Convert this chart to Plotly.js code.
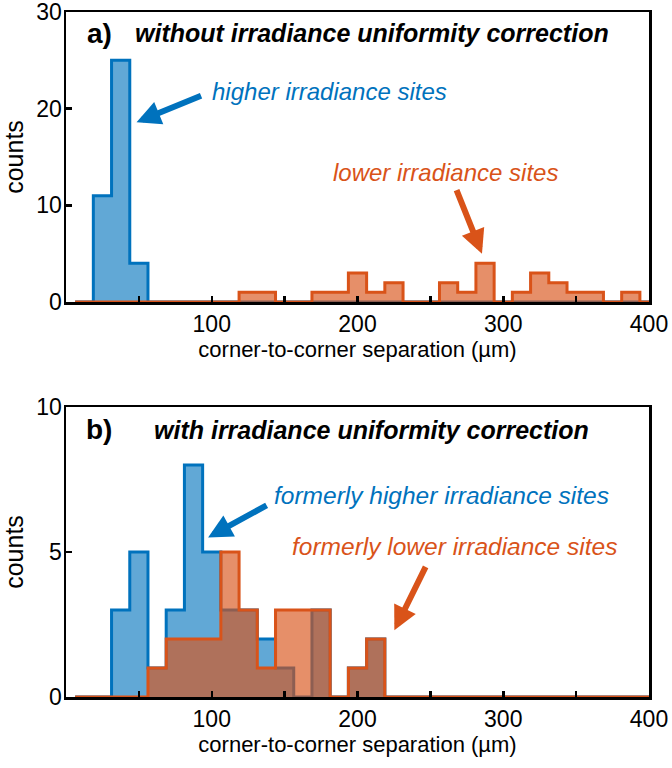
<!DOCTYPE html>
<html>
<head>
<meta charset="utf-8">
<script src="https://cdn.plot.ly/plotly-3.0.1.min.js"></script>
<style>html,body{margin:0;padding:0;background:#fff;}#chart{width:672px;height:768px;}</style>
</head>
<body>
<div id="chart"></div>
<script>
// ---- data ----
const binCenters = [12.5, 25, 37.5, 50, 62.5, 75, 87.5, 100, 112.5, 125, 137.5, 150, 162.5, 175, 187.5, 200,
                    212.5, 225, 237.5, 250, 262.5, 275, 287.5, 300, 312.5, 325, 337.5, 350, 362.5, 375, 387.5, 400];
const countsA_higher = [0, 11, 25, 4, 0, 0, 0, 0, 0, 0, 0, 0, 0, 0, 0, 0, 0, 0, 0, 0, 0, 0, 0, 0, 0, 0, 0, 0, 0, 0, 0, 0];
const countsA_lower  = [0, 0, 0, 0, 0, 0, 0, 0, 0, 1, 1, 0, 0, 1, 1, 3, 1, 2, 0, 0, 2, 1, 4, 0, 1, 3, 2, 1, 1, 0, 1, 0];
const countsB_higher = [0, 0, 3, 5, 1, 3, 8, 5, 3, 3, 2, 1, 0, 3, 0, 1, 2, 0, 0, 0, 0, 0, 0, 0, 0, 0, 0, 0, 0, 0, 0, 0];
const countsB_lower  = [0, 0, 0, 0, 1, 2, 2, 2, 5, 3, 1, 3, 3, 3, 0, 1, 2, 0, 0, 0, 0, 0, 0, 0, 0, 0, 0, 0, 0, 0, 0, 0];
const xTickVals = [50, 100, 150, 200, 250, 300, 350, 400];
const xTickText = ['', '100', '', '200', '', '300', '', '400'];
const yTickValsA = [0, 10, 20, 30];
const yTickValsB = [0, 5, 10];

// ---- styling ----
const FONT = '"Liberation Sans Narrow", "Liberation Sans", Arial, sans-serif';
const BLUE = '#0072BD', BLUE_FILL = 'rgba(0,114,189,0.62)';
const ORANGE = '#D95319', ORANGE_FILL = 'rgba(217,83,25,0.65)';
const W = 672, H = 768;
const px = v => v / W, py = v => 1 - v / H;

function stepTrace(counts, xa, ya, lineColor, fillColor) {
  const w = binCenters[1] - binCenters[0];
  const x = binCenters.map(c => c - w / 2);
  x.push(binCenters[binCenters.length - 1] + w / 2);
  const y = counts.slice();
  y.push(counts[counts.length - 1]);
  return {type: 'scatter', mode: 'lines', x: x, y: y, xaxis: xa, yaxis: ya,
          line: {shape: 'hv', color: lineColor, width: 3}, fill: 'tozeroy', fillcolor: fillColor,
          hoverinfo: 'skip', showlegend: false};
}

const traces = [
  stepTrace(countsA_higher, 'x', 'y', BLUE, BLUE_FILL),
  stepTrace(countsA_lower, 'x', 'y', ORANGE, ORANGE_FILL),
  stepTrace(countsB_higher, 'x2', 'y2', BLUE, BLUE_FILL),
  stepTrace(countsB_lower, 'x2', 'y2', ORANGE, ORANGE_FILL)
];

function xAxis(anchor) {
  return {domain: [px(66), px(649)], anchor: anchor, range: [0, 400], tickmode: 'array',
          tickvals: xTickVals, ticktext: xTickText, ticks: 'inside', ticklen: 6, tickwidth: 2.5,
          tickcolor: '#000', showline: true, linewidth: 2.5, linecolor: '#000', mirror: true,
          showgrid: false, zeroline: false, ticklabeloverflow: 'allow',
          tickfont: {family: FONT, size: 23, color: '#000'},
          title: {text: 'corner-to-corner separation (µm)', font: {family: FONT, size: 22, color: '#000'}, standoff: 6}};
}
function yAxis(anchor, dom, range, vals) {
  return {domain: dom, anchor: anchor, range: range, tickmode: 'array', tickvals: vals,
          ticks: 'inside', ticklen: 6, tickwidth: 2.5, tickcolor: '#000', showline: true, linewidth: 2.5,
          linecolor: '#000', mirror: true, showgrid: false, zeroline: false, ticklabeloverflow: 'allow',
          ticklabelstandoff: -3,
          tickfont: {family: FONT, size: 23, color: '#000'},
          title: {text: 'counts', font: {family: FONT, size: 25, color: '#000'}, standoff: 6}};
}

function label(text, x, y, color, size, xanchor) {
  return {text: text, xref: 'paper', yref: 'paper', x: px(x), y: py(y), xanchor: xanchor || 'left',
          yanchor: 'middle', showarrow: false, font: {family: FONT, size: size, color: color}};
}
function arrow(xref, yref, x, y, ax, ay, color) {
  return {text: '', xref: xref, yref: yref, x: x, y: y, ax: ax, ay: ay, showarrow: true,
          arrowhead: 2, arrowsize: 0.8, arrowwidth: 6, arrowcolor: color};
}

const layout = {
  width: W, height: H, margin: {l: 0, r: 0, t: 0, b: 0}, paper_bgcolor: '#fff', plot_bgcolor: '#fff',
  showlegend: false,
  xaxis: xAxis('y'),
  yaxis: yAxis('x', [py(302), py(12)], [0, 30], yTickValsA),
  xaxis2: xAxis('y2'),
  yaxis2: yAxis('x2', [py(697), py(407)], [0, 10], yTickValsB),
  annotations: [
    label('<b>a)</b>', 99, 33, '#000', 28, 'center'),
    label('<b><i>without irradiance uniformity correction</i></b>', 133, 33, '#000', 25),
    label('<i>higher irradiance sites</i>', 210, 92, BLUE, 24),
    label('<i>lower irradiance sites</i>', 331, 173, ORANGE, 24),
    label('<b>b)</b>', 99, 429, '#000', 28, 'center'),
    label('<b><i>with irradiance uniformity correction</i></b>', 152, 430, '#000', 25),
    label('<i>formerly higher irradiance sites</i>', 272, 495, BLUE, 24.5),
    label('<i>formerly lower irradiance sites</i>', 290, 546, ORANGE, 24.5),
    arrow('x', 'y', 48.4, 18.6, 66, -27, BLUE),
    arrow('x', 'y', 285.4, 5.0, -26, -65, ORANGE),
    arrow('x2', 'y2', 97.5, 5.5, 60, -33, BLUE),
    arrow('x2', 'y2', 225.3, 2.3, 32, -65, ORANGE)
  ]
};

Plotly.newPlot('chart', traces, layout, {staticPlot: true, displayModeBar: false});
</script>
</body>
</html>
